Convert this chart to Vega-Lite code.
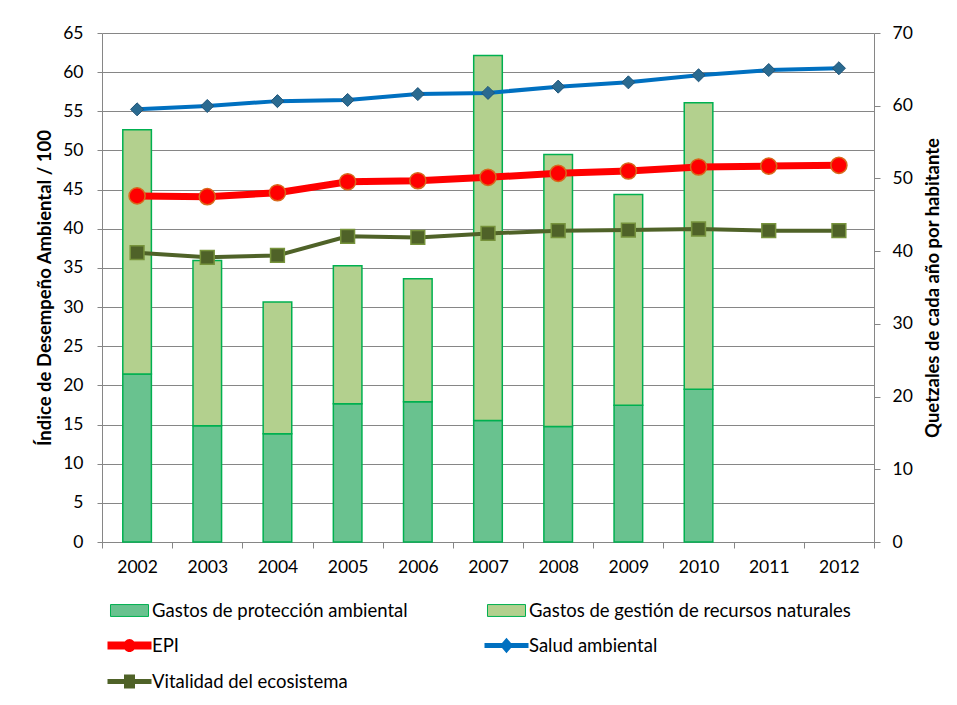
{
  "$schema": "https://vega.github.io/schema/vega-lite/v6.json",
  "width": 772,
  "height": 509,
  "autosize": {"type": "none"},
  "padding": {"left": 102, "top": 33, "right": 83, "bottom": 163},
  "background": "white",
  "config": {
    "view": {"stroke": null},
    "font": "Lato",
    "axis": {
      "labelFont": "Lato",
      "labelFontSize": 17.5,
      "labelColor": "#000000",
      "titleFont": "Lato",
      "titleFontSize": 18.5,
      "titleFontWeight": "bold",
      "titleColor": "#000000",
      "domainColor": "#868686",
      "tickColor": "#868686",
      "gridColor": "#868686",
      "domainWidth": 1,
      "tickWidth": 1,
      "gridWidth": 1
    }
  },
  "datasets": {
    "bars": [
      {"year": "2002", "series": "Gastos de protección ambiental", "value": 23.1},
      {"year": "2002", "series": "Gastos de gestión de recursos naturales", "value": 33.6},
      {"year": "2003", "series": "Gastos de protección ambiental", "value": 16.0},
      {"year": "2003", "series": "Gastos de gestión de recursos naturales", "value": 22.7},
      {"year": "2004", "series": "Gastos de protección ambiental", "value": 14.9},
      {"year": "2004", "series": "Gastos de gestión de recursos naturales", "value": 18.1},
      {"year": "2005", "series": "Gastos de protección ambiental", "value": 19.0},
      {"year": "2005", "series": "Gastos de gestión de recursos naturales", "value": 19.0},
      {"year": "2006", "series": "Gastos de protección ambiental", "value": 19.3},
      {"year": "2006", "series": "Gastos de gestión de recursos naturales", "value": 16.9},
      {"year": "2007", "series": "Gastos de protección ambiental", "value": 16.7},
      {"year": "2007", "series": "Gastos de gestión de recursos naturales", "value": 50.2},
      {"year": "2008", "series": "Gastos de protección ambiental", "value": 15.9},
      {"year": "2008", "series": "Gastos de gestión de recursos naturales", "value": 37.4},
      {"year": "2009", "series": "Gastos de protección ambiental", "value": 18.8},
      {"year": "2009", "series": "Gastos de gestión de recursos naturales", "value": 29.0},
      {"year": "2010", "series": "Gastos de protección ambiental", "value": 21.0},
      {"year": "2010", "series": "Gastos de gestión de recursos naturales", "value": 39.4},
      {"year": "2011", "series": "Gastos de protección ambiental", "value": null},
      {"year": "2012", "series": "Gastos de protección ambiental", "value": null}
    ],
    "lines": [
      {"year": "2002", "series": "EPI", "value": 44.2},
      {"year": "2003", "series": "EPI", "value": 44.1},
      {"year": "2004", "series": "EPI", "value": 44.6},
      {"year": "2005", "series": "EPI", "value": 46.0},
      {"year": "2006", "series": "EPI", "value": 46.14},
      {"year": "2007", "series": "EPI", "value": 46.57},
      {"year": "2008", "series": "EPI", "value": 47.08},
      {"year": "2009", "series": "EPI", "value": 47.38},
      {"year": "2010", "series": "EPI", "value": 47.89},
      {"year": "2011", "series": "EPI", "value": 48.0},
      {"year": "2012", "series": "EPI", "value": 48.1},
      {"year": "2002", "series": "Salud ambiental", "value": 55.25},
      {"year": "2003", "series": "Salud ambiental", "value": 55.68},
      {"year": "2004", "series": "Salud ambiental", "value": 56.3},
      {"year": "2005", "series": "Salud ambiental", "value": 56.45},
      {"year": "2006", "series": "Salud ambiental", "value": 57.2},
      {"year": "2007", "series": "Salud ambiental", "value": 57.35},
      {"year": "2008", "series": "Salud ambiental", "value": 58.15},
      {"year": "2009", "series": "Salud ambiental", "value": 58.7},
      {"year": "2010", "series": "Salud ambiental", "value": 59.6},
      {"year": "2011", "series": "Salud ambiental", "value": 60.27},
      {"year": "2012", "series": "Salud ambiental", "value": 60.5},
      {"year": "2002", "series": "Vitalidad del ecosistema", "value": 36.95},
      {"year": "2003", "series": "Vitalidad del ecosistema", "value": 36.35},
      {"year": "2004", "series": "Vitalidad del ecosistema", "value": 36.6},
      {"year": "2005", "series": "Vitalidad del ecosistema", "value": 39.03},
      {"year": "2006", "series": "Vitalidad del ecosistema", "value": 38.9},
      {"year": "2007", "series": "Vitalidad del ecosistema", "value": 39.4},
      {"year": "2008", "series": "Vitalidad del ecosistema", "value": 39.76},
      {"year": "2009", "series": "Vitalidad del ecosistema", "value": 39.84},
      {"year": "2010", "series": "Vitalidad del ecosistema", "value": 39.97},
      {"year": "2011", "series": "Vitalidad del ecosistema", "value": 39.76},
      {"year": "2012", "series": "Vitalidad del ecosistema", "value": 39.76}
    ]
  },
  "encoding": {
    "x": {
      "field": "year",
      "type": "ordinal",
      "scale": {"paddingInner": 0, "paddingOuter": 0},
      "axis": {
        "title": null,
        "labelAngle": 0,
        "tickBand": "extent",
        "tickSize": 6,
        "labelPadding": 10,
        "grid": false
      }
    }
  },
  "layer": [
    {
      "data": {"name": "bars"},
      "mark": {"type": "bar", "stroke": "#00B050", "strokeWidth": 1.5, "width": {"band": 0.4075}},
      "encoding": {
        "y": {
          "field": "value",
          "type": "quantitative",
          "stack": "zero",
          "scale": {"domain": [0, 70]},
          "axis": {
            "orient": "right",
            "title": "Quetzales de cada año por habitante",
            "values": [0, 10, 20, 30, 40, 50, 60, 70],
            "grid": false,
            "tickSize": 6,
            "labelPadding": 12,
            "titleAngle": -90,
            "titlePadding": 30
          }
        },
        "color": {
          "field": "series",
          "type": "nominal",
          "scale": {
            "domain": ["Gastos de protección ambiental", "Gastos de gestión de recursos naturales", "EPI", "Salud ambiental", "Vitalidad del ecosistema"],
            "range": ["#69C28F", "#B3D08E", "#FF0000", "#0070C0", "#4F6228"]
          },
          "legend": {
            "title": null,
            "orient": "none",
            "direction": "horizontal",
            "legendX": 5,
            "legendY": 555,
            "columns": 2,
            "columnPadding": 74,
            "rowPadding": 3,
            "symbolSize": 1936,
            "symbolType": {"expr": "datum.value === 'EPI' ? 'M-1,-0.18H1V0.18H-1Z M-0.27,0A0.27,0.3 0 1,1 0.27,0A0.27,0.3 0 1,1 -0.27,0Z' : datum.value === 'Salud ambiental' ? 'M-1,-0.11H1V0.11H-1Z M0,-0.35L0.3,0L0,0.35L-0.3,0Z' : datum.value === 'Vitalidad del ecosistema' ? 'M-1,-0.11H1V0.11H-1Z M-0.25,-0.32H0.25V0.32H-0.25Z' : 'M-0.864,-0.27H0.864V0.27H-0.864Z'"},
            "symbolStrokeColor": {"expr": "indexof(datum.value, 'Gastos') === 0 ? '#00B050' : 'transparent'"},
            "symbolStrokeWidth": 1,
            "labelFont": "Lato",
            "labelFontSize": 18.5,
            "labelColor": "#000000",
            "labelOffset": 0,
            "labelLimit": 500
          }
        },
        "order": {"field": "series", "sort": "descending"}
      }
    },
    {
      "data": {"name": "lines"},
      "encoding": {
        "y": {
          "field": "value",
          "type": "quantitative",
          "scale": {"domain": [0, 65]},
          "axis": {
            "orient": "left",
            "title": "Índice de Desempeño Ambiental / 100",
            "values": [0, 5, 10, 15, 20, 25, 30, 35, 40, 45, 50, 55, 60, 65],
            "grid": true,
            "tickSize": 5,
            "labelPadding": 14,
            "titlePadding": 8
          }
        }
      },
      "layer": [
        {
          "transform": [{"filter": "datum.series === 'Vitalidad del ecosistema'"}],
          "mark": {"type": "line", "color": "#4F6228", "strokeWidth": 4}
        },
        {
          "transform": [{"filter": "datum.series === 'Vitalidad del ecosistema'"}],
          "mark": {"type": "point", "shape": "square", "size": 190, "filled": true, "fill": "#4F6228", "stroke": "#77933C", "strokeWidth": 1.5, "opacity": 1}
        },
        {
          "transform": [{"filter": "datum.series === 'EPI'"}],
          "mark": {"type": "line", "color": "#FF0000", "strokeWidth": 7}
        },
        {
          "transform": [{"filter": "datum.series === 'EPI'"}],
          "mark": {"type": "point", "shape": "circle", "size": 260, "filled": true, "fill": "#FF0000", "stroke": "#D8691C", "strokeWidth": 1.5, "opacity": 1}
        },
        {
          "transform": [{"filter": "datum.series === 'Salud ambiental'"}],
          "mark": {"type": "line", "color": "#0070C0", "strokeWidth": 4}
        },
        {
          "transform": [{"filter": "datum.series === 'Salud ambiental'"}],
          "mark": {"type": "point", "shape": "diamond", "size": 170, "filled": true, "fill": "#2A6A90", "stroke": "#1F5478", "strokeWidth": 1, "opacity": 1}
        }
      ]
    }
  ],
  "resolve": {"scale": {"y": "independent"}}
}
